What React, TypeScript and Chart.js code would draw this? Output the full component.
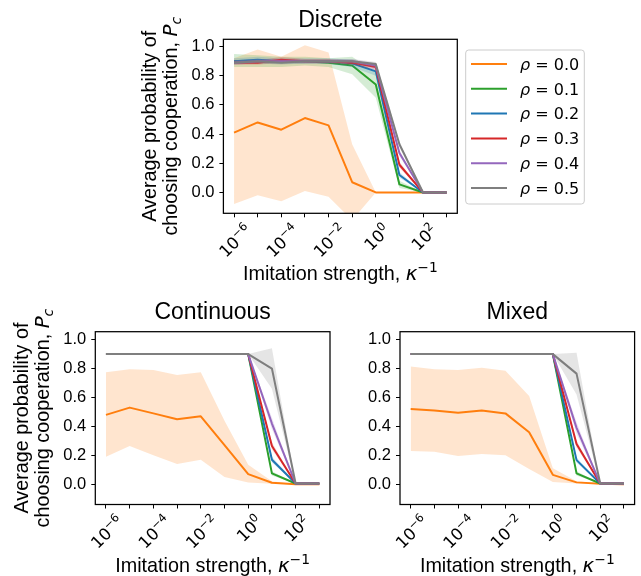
import React, { useEffect, useRef } from "react";
import { Chart, registerables } from "chart.js";

Chart.register(...registerables);

// ---------------- data ----------------
const KAPPA_INV = [1e-6, 1e-5, 1e-4, 1e-3, 1e-2, 1e-1, 1e0, 1e1, 1e2, 1e3];
const X_TICK_EXPONENTS = ["\u22126", "", "\u22124", "", "\u22122", "", "0", "", "2", ""];
const Y_TICKS = [0, 0.2, 0.4, 0.6, 0.8, 1.0];
const RHO_LABELS = ["0.0", "0.1", "0.2", "0.3", "0.4", "0.5"];
const LINE_COLORS = ["#ff7f0e", "#2ca02c", "#1f77b4", "#d62728", "#9467bd", "#7f7f7f"];
const BAND_COLORS = [
  "rgba(255,127,14,0.2)",
  "rgba(44,160,44,0.2)",
  "rgba(31,119,180,0.2)",
  "rgba(214,39,40,0.2)",
  "rgba(148,103,189,0.2)",
  "rgba(127,127,127,0.2)",
];

// Discrete
const discreteMean = [
  [0.41, 0.48, 0.43, 0.51, 0.46, 0.07, 0, 0, 0, 0],
  [0.9, 0.9, 0.9, 0.9, 0.89, 0.87, 0.74, 0.055, 0, 0],
  [0.9, 0.91, 0.9, 0.9, 0.9, 0.885, 0.83, 0.12, 0, 0],
  [0.89, 0.89, 0.91, 0.9, 0.9, 0.89, 0.86, 0.19, 0, 0],
  [0.89, 0.9, 0.9, 0.9, 0.9, 0.9, 0.87, 0.27, 0, 0],
  [0.89, 0.9, 0.89, 0.9, 0.9, 0.9, 0.88, 0.33, 0, 0],
];
const discreteLower = [
  [-0.08, -0.02, -0.06, 0.01, -0.03, -0.19, 0, 0, 0, 0],
  [0.86, 0.86, 0.86, 0.87, 0.86, 0.81, 0.65, 0.03, 0, 0],
  [0.88, 0.88, 0.88, 0.88, 0.88, 0.86, 0.8, 0.1, 0, 0],
  [0.875, 0.875, 0.89, 0.885, 0.885, 0.875, 0.84, 0.17, 0, 0],
  [0.875, 0.885, 0.885, 0.885, 0.885, 0.885, 0.855, 0.25, 0, 0],
  [0.875, 0.885, 0.875, 0.885, 0.885, 0.885, 0.865, 0.31, 0, 0],
];
const discreteUpper = [
  [0.92, 0.98, 0.93, 1.01, 0.96, 0.33, 0, 0, 0, 0],
  [0.95, 0.94, 0.93, 0.93, 0.92, 0.93, 0.82, 0.08, 0, 0],
  [0.92, 0.93, 0.92, 0.92, 0.92, 0.91, 0.86, 0.14, 0, 0],
  [0.905, 0.905, 0.93, 0.915, 0.915, 0.905, 0.88, 0.21, 0, 0],
  [0.905, 0.915, 0.915, 0.915, 0.915, 0.915, 0.885, 0.29, 0, 0],
  [0.905, 0.915, 0.905, 0.915, 0.915, 0.915, 0.895, 0.35, 0, 0],
];

// Continuous
const continuousMean = [
  [0.48, 0.53, 0.49, 0.45, 0.47, 0.27, 0.07, 0.01, 0.0, 0.0],
  [0.9, 0.9, 0.9, 0.9, 0.9, 0.9, 0.9, 0.075, 0.005, 0.005],
  [0.9, 0.9, 0.9, 0.9, 0.9, 0.9, 0.9, 0.17, 0.005, 0.005],
  [0.9, 0.9, 0.9, 0.9, 0.9, 0.9, 0.9, 0.265, 0.005, 0.005],
  [0.9, 0.9, 0.9, 0.9, 0.9, 0.9, 0.9, 0.42, 0.005, 0.005],
  [0.9, 0.9, 0.9, 0.9, 0.9, 0.9, 0.9, 0.8, 0.005, 0.005],
];
const continuousLower = [
  [0.19, 0.265, 0.2, 0.14, 0.17, 0.05, 0.012, 0.003, 0.0, 0.0],
  [0.9, 0.9, 0.9, 0.9, 0.9, 0.9, 0.9, 0.06, 0.004, 0.004],
  [0.9, 0.9, 0.9, 0.9, 0.9, 0.9, 0.9, 0.15, 0.004, 0.004],
  [0.9, 0.9, 0.9, 0.9, 0.9, 0.9, 0.9, 0.24, 0.004, 0.004],
  [0.9, 0.9, 0.9, 0.9, 0.9, 0.9, 0.9, 0.38, 0.004, 0.004],
  [0.9, 0.9, 0.9, 0.9, 0.9, 0.9, 0.9, 0.66, 0.004, 0.004],
];
const continuousUpper = [
  [0.775, 0.795, 0.79, 0.755, 0.775, 0.44, 0.135, 0.02, 0.0, 0.0],
  [0.9, 0.9, 0.9, 0.9, 0.9, 0.9, 0.9, 0.09, 0.006, 0.006],
  [0.9, 0.9, 0.9, 0.9, 0.9, 0.9, 0.9, 0.19, 0.006, 0.006],
  [0.9, 0.9, 0.9, 0.9, 0.9, 0.9, 0.9, 0.29, 0.006, 0.006],
  [0.9, 0.9, 0.9, 0.9, 0.9, 0.9, 0.9, 0.46, 0.006, 0.006],
  [0.9, 0.9, 0.9, 0.9, 0.9, 0.9, 0.9, 0.94, 0.006, 0.006],
];

// Mixed
const mixedMean = [
  [0.52, 0.51, 0.495, 0.51, 0.49, 0.36, 0.065, 0.013, 0.004, 0.0],
  [0.9, 0.9, 0.9, 0.9, 0.9, 0.9, 0.9, 0.075, 0.005, 0.005],
  [0.9, 0.9, 0.9, 0.9, 0.9, 0.9, 0.9, 0.167, 0.005, 0.005],
  [0.9, 0.9, 0.9, 0.9, 0.9, 0.9, 0.9, 0.278, 0.005, 0.005],
  [0.9, 0.9, 0.9, 0.9, 0.9, 0.9, 0.9, 0.39, 0.005, 0.005],
  [0.9, 0.9, 0.9, 0.9, 0.9, 0.9, 0.9, 0.765, 0.005, 0.005],
];
const mixedLower = [
  [0.23, 0.225, 0.195, 0.21, 0.2, 0.105, 0.015, 0.005, 0.003, 0.0],
  [0.9, 0.9, 0.9, 0.9, 0.9, 0.9, 0.9, 0.06, 0.004, 0.004],
  [0.9, 0.9, 0.9, 0.9, 0.9, 0.9, 0.9, 0.15, 0.004, 0.004],
  [0.9, 0.9, 0.9, 0.9, 0.9, 0.9, 0.9, 0.255, 0.004, 0.004],
  [0.9, 0.9, 0.9, 0.9, 0.9, 0.9, 0.9, 0.35, 0.004, 0.004],
  [0.9, 0.9, 0.9, 0.9, 0.9, 0.9, 0.9, 0.62, 0.004, 0.004],
];
const mixedUpper = [
  [0.815, 0.795, 0.79, 0.805, 0.785, 0.61, 0.11, 0.02, 0.005, 0.0],
  [0.9, 0.9, 0.9, 0.9, 0.9, 0.9, 0.9, 0.09, 0.006, 0.006],
  [0.9, 0.9, 0.9, 0.9, 0.9, 0.9, 0.9, 0.185, 0.006, 0.006],
  [0.9, 0.9, 0.9, 0.9, 0.9, 0.9, 0.9, 0.3, 0.006, 0.006],
  [0.9, 0.9, 0.9, 0.9, 0.9, 0.9, 0.9, 0.43, 0.006, 0.006],
  [0.9, 0.9, 0.9, 0.9, 0.9, 0.9, 0.9, 0.91, 0.006, 0.006],
];

// ---------------- layout ----------------
const W = 641;
const H = 576;
const X_MIN = Math.pow(10, -6.45);
const X_MAX = Math.pow(10, 3.45);
const Y_AXIS_W = 50;
const X_AXIS_H = 4;
const SANS = '"Liberation Sans", Arial, sans-serif';
const MATHF = '"DejaVu Sans", sans-serif';
const TICK_FS = 16.5;
const LABEL_FS = 19.8;
const TITLE_FS = 23;

type Box = { l: number; t: number; r: number; b: number };
type PanelSpec = {
  key: string;
  title: string;
  mean: number[][];
  lower: number[][];
  upper: number[][];
  box: Box;
  yMin: number;
  yMax: number;
  yLabel: boolean;
  legend: boolean;
};

const PANELS: PanelSpec[] = [
  {
    key: "discrete",
    title: "Discrete",
    mean: discreteMean,
    lower: discreteLower,
    upper: discreteUpper,
    box: { l: 223.4, t: 39.3, r: 457.3, b: 213.3 },
    yMin: -0.143,
    yMax: 1.05,
    yLabel: true,
    legend: true,
  },
  {
    key: "continuous",
    title: "Continuous",
    mean: continuousMean,
    lower: continuousLower,
    upper: continuousUpper,
    box: { l: 95.3, t: 331.7, r: 330, b: 504.5 },
    yMin: -0.14,
    yMax: 1.055,
    yLabel: true,
    legend: false,
  },
  {
    key: "mixed",
    title: "Mixed",
    mean: mixedMean,
    lower: mixedLower,
    upper: mixedUpper,
    box: { l: 400, t: 331.7, r: 634.6, b: 504.5 },
    yMin: -0.14,
    yMax: 1.055,
    yLabel: false,
    legend: false,
  },
];

type Part = { t: string; font: string; dy?: number };

function partsWidth(ctx: CanvasRenderingContext2D, parts: Part[]) {
  let w = 0;
  for (const p of parts) {
    ctx.font = p.font;
    w += ctx.measureText(p.t).width;
  }
  return w;
}

function drawParts(
  ctx: CanvasRenderingContext2D,
  parts: Part[],
  x: number,
  y: number,
  align: "left" | "center"
) {
  const w = partsWidth(ctx, parts);
  let cx = align === "center" ? x - w / 2 : x;
  ctx.textAlign = "left";
  ctx.textBaseline = "alphabetic";
  for (const p of parts) {
    ctx.font = p.font;
    ctx.fillText(p.t, cx, y + (p.dy || 0));
    cx += ctx.measureText(p.t).width;
  }
}

function drawPowerLabel(ctx: CanvasRenderingContext2D, x: number, top: number, exp: string) {
  const fs = TICK_FS;
  const sfs = fs * 0.7;
  ctx.font = `${fs}px ${MATHF}`;
  const w1 = ctx.measureText("10").width;
  ctx.font = `${sfs}px ${MATHF}`;
  const w2 = ctx.measureText(exp).width;
  const w = w1 + w2;
  const rise = fs * 0.4;
  const h = rise + sfs * 0.73;
  const d = (w + h) / Math.SQRT2;
  ctx.save();
  ctx.translate(x, top + d / 2);
  ctx.rotate(-Math.PI / 4);
  ctx.textAlign = "left";
  ctx.textBaseline = "alphabetic";
  ctx.fillStyle = "#000";
  ctx.font = `${fs}px ${MATHF}`;
  ctx.fillText("10", -w / 2, h / 2);
  ctx.font = `${sfs}px ${MATHF}`;
  ctx.fillText(exp, -w / 2 + w1, h / 2 - rise);
  ctx.restore();
}

function roundRect(ctx: CanvasRenderingContext2D, x: number, y: number, w: number, h: number, r: number) {
  ctx.beginPath();
  ctx.moveTo(x + r, y);
  ctx.lineTo(x + w - r, y);
  ctx.arcTo(x + w, y, x + w, y + r, r);
  ctx.lineTo(x + w, y + h - r);
  ctx.arcTo(x + w, y + h, x + w - r, y + h, r);
  ctx.lineTo(x + r, y + h);
  ctx.arcTo(x, y + h, x, y + h - r, r);
  ctx.lineTo(x, y + r);
  ctx.arcTo(x, y, x + r, y, r);
  ctx.closePath();
}

function makeDecor(spec: PanelSpec) {
  return {
    id: "decor_" + spec.key,
    afterDraw(chart: any) {
      const ctx: CanvasRenderingContext2D = chart.ctx;
      const a = chart.chartArea;
      ctx.save();
      ctx.fillStyle = "#000";
      ctx.strokeStyle = "#000";
      ctx.lineWidth = 1.25;
      ctx.strokeRect(a.left, a.top, a.right - a.left, a.bottom - a.top);

      const xs = chart.scales.x;
      KAPPA_INV.forEach((v, i) => {
        const e = X_TICK_EXPONENTS[i];
        if (!e) return;
        drawPowerLabel(ctx, xs.getPixelForValue(v), a.bottom + 7.5, e);
      });

      const cx = (a.left + a.right) / 2;
      ctx.fillStyle = "#000";
      drawParts(ctx, [{ t: spec.title, font: `${TITLE_FS}px ${SANS}` }], cx, a.top - 12.3, "center");

      drawParts(
        ctx,
        [
          { t: "Imitation strength, ", font: `${LABEL_FS}px ${SANS}` },
          { t: "\u03ba", font: `italic ${LABEL_FS}px ${MATHF}` },
          { t: "\u22121", font: `${LABEL_FS * 0.7}px ${MATHF}`, dy: -8 },
        ],
        cx,
        a.bottom + 67,
        "center"
      );

      if (spec.yLabel) {
        const cy = (a.top + a.bottom) / 2;
        ctx.save();
        ctx.translate(a.left - 67.5, cy);
        ctx.rotate(-Math.PI / 2);
        drawParts(ctx, [{ t: "Average probability of", font: `${LABEL_FS}px ${SANS}` }], 0, 0, "center");
        ctx.restore();
        ctx.save();
        ctx.translate(a.left - 46, cy);
        ctx.rotate(-Math.PI / 2);
        drawParts(
          ctx,
          [
            { t: "choosing cooperation, ", font: `${LABEL_FS}px ${SANS}` },
            { t: "P", font: `italic ${LABEL_FS}px ${MATHF}` },
            { t: "c", font: `italic ${LABEL_FS * 0.7}px ${MATHF}`, dy: 3.8 },
          ],
          0,
          0,
          "center"
        );
        ctx.restore();
      }

      if (spec.legend) {
        const lx = a.right + 8.4;
        const ly = a.top + 10.7;
        const lw = 118.6;
        const lh = 154;
        roundRect(ctx, lx, ly, lw, lh, 3);
        ctx.fillStyle = "rgba(255,255,255,0.8)";
        ctx.fill();
        ctx.strokeStyle = "#cccccc";
        ctx.lineWidth = 1;
        ctx.stroke();
        RHO_LABELS.forEach((lab, s) => {
          const y = ly + 14 + s * 24.8;
          ctx.strokeStyle = LINE_COLORS[s];
          ctx.lineWidth = 2;
          ctx.beginPath();
          ctx.moveTo(lx + 5.3, y);
          ctx.lineTo(lx + 41.3, y);
          ctx.stroke();
          ctx.fillStyle = "#000";
          drawParts(
            ctx,
            [
              { t: "\u03c1", font: `italic 16px ${MATHF}` },
              { t: " = ", font: `16px ${MATHF}` },
              { t: lab, font: `16px ${MATHF}` },
            ],
            lx + 54.3,
            y + 5.8,
            "left"
          );
        });
      }
      ctx.restore();
    },
  };
}

function buildConfig(spec: PanelSpec): any {
  const datasets: any[] = [];
  for (let s = 0; s < RHO_LABELS.length; s++) {
    const base = datasets.length;
    datasets.push({
      label: "\u03c1 = " + RHO_LABELS[s],
      data: KAPPA_INV.map((x, i) => ({ x, y: spec.mean[s][i] })),
      borderColor: LINE_COLORS[s],
      backgroundColor: LINE_COLORS[s],
      borderWidth: 2,
      borderJoinStyle: "round",
      pointRadius: 0,
      fill: false,
      tension: 0,
      order: 100 - 3 * s,
    });
    datasets.push({
      label: "lower",
      data: KAPPA_INV.map((x, i) => ({ x, y: spec.lower[s][i] })),
      borderColor: "rgba(0,0,0,0)",
      borderWidth: 0,
      pointRadius: 0,
      fill: false,
      tension: 0,
      order: 99 - 3 * s,
    });
    datasets.push({
      label: "upper",
      data: KAPPA_INV.map((x, i) => ({ x, y: spec.upper[s][i] })),
      borderColor: "rgba(0,0,0,0)",
      backgroundColor: BAND_COLORS[s],
      borderWidth: 0,
      pointRadius: 0,
      fill: base + 1,
      tension: 0,
      order: 98 - 3 * s,
    });
  }
  const b = spec.box;
  const gridOpts = {
    display: true,
    drawOnChartArea: false,
    drawTicks: true,
    tickLength: 4,
    color: "#000",
    lineWidth: 1,
  };
  return {
    type: "line",
    data: { datasets },
    options: {
      responsive: false,
      animation: false,
      events: [],
      layout: {
        padding: {
          left: b.l - Y_AXIS_W,
          top: b.t,
          right: W - b.r,
          bottom: H - b.b - X_AXIS_H,
        },
      },
      plugins: {
        legend: { display: false },
        title: { display: false },
        tooltip: { enabled: false },
        filler: { propagate: false },
      },
      scales: {
        x: {
          type: "logarithmic",
          min: X_MIN,
          max: X_MAX,
          border: { display: false },
          grid: gridOpts,
          ticks: { display: false },
          afterBuildTicks: (sc: any) => {
            sc.ticks = KAPPA_INV.map((v) => ({ value: v }));
          },
          afterFit: (sc: any) => {
            sc.height = X_AXIS_H;
          },
        },
        y: {
          type: "linear",
          min: spec.yMin,
          max: spec.yMax,
          border: { display: false },
          grid: gridOpts,
          ticks: {
            display: true,
            color: "#000",
            padding: 5,
            font: { family: SANS, size: TICK_FS },
            callback: (v: any) => Number(v).toFixed(1),
          },
          afterBuildTicks: (sc: any) => {
            sc.ticks = Y_TICKS.map((v) => ({ value: v }));
          },
          afterFit: (sc: any) => {
            sc.width = Y_AXIS_W;
          },
        },
      },
    },
    plugins: [makeDecor(spec)],
  };
}

function Panel({ spec }: { spec: PanelSpec }) {
  const ref = useRef<HTMLCanvasElement | null>(null);
  useEffect(() => {
    if (!ref.current) return;
    const chart = new Chart(ref.current, buildConfig(spec));
    return () => chart.destroy();
  }, [spec]);
  return (
    <canvas
      ref={ref}
      width={W}
      height={H}
      style={{ position: "absolute", left: 0, top: 0, width: W, height: H }}
    />
  );
}

export default function App() {
  return (
    <div style={{ position: "absolute", left: 0, top: 0, width: W, height: H, background: "#fff" }}>
      {PANELS.map((p) => (
        <Panel key={p.key} spec={p} />
      ))}
    </div>
  );
}
